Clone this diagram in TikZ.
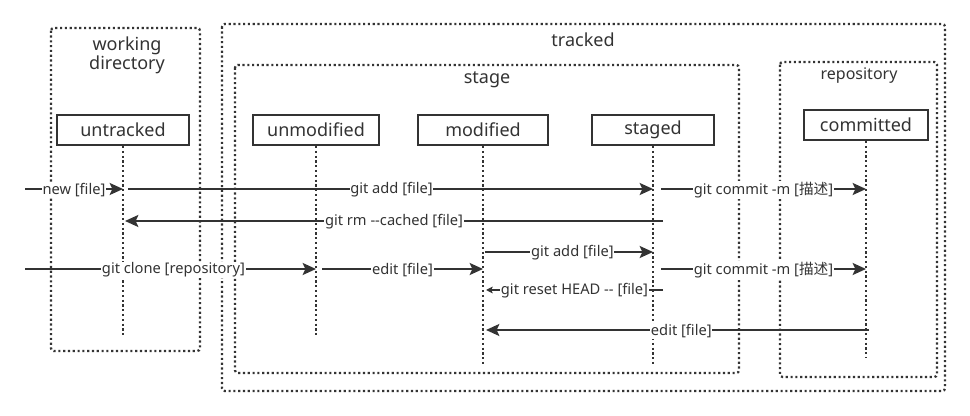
\documentclass[tikz,border=0pt]{standalone}
\usepackage{fontspec}
\setmainfont{Noto Sans}
\newfontfamily\cjk{Noto Sans CJK SC}
\usetikzlibrary{arrows.meta}
\definecolor{ink}{HTML}{333333}
\tikzset{
  dots/.style={line width=1.7pt, dash pattern=on 1.6pt off 2pt},
  grp/.style={draw=ink, dots, rounded corners=2pt},
  state/.style={draw=ink, line width=1.5pt, fill=white, minimum height=22.5pt, inner sep=0pt, font=\fontsize{13.5}{15}\selectfont, text=ink},
  life/.style={draw=ink, dots},
  msg/.style={draw=ink, line width=1.5pt, -{Stealth[length=10pt,width=9pt,inset=2pt]}},
  smsg/.style={draw=ink, line width=1.2pt, -{Stealth[length=5pt,width=5pt,inset=1pt]}},
  lbl/.style={fill=white, inner sep=0.5pt, yshift=-0.8pt, text=ink, font=\fontsize{11}{12}\selectfont},
  grplbl/.style={text=ink, font=\fontsize{13.5}{15}\selectfont},
}
\begin{document}
\begin{tikzpicture}[x=0.75pt,y=-0.75pt]
\useasboundingbox (0,0) rectangle (970,416);
% groups
\draw[grp] (51,28) rectangle (200,351);
\node[grplbl, align=center] (wdl) at (127,55) {working\\[-1pt]directory};
\draw[grp] (222,24) rectangle (945,391);
\node[grplbl] (trl) at (583,40) {tracked};
\draw[grp] (235,65) rectangle (739,373);
\node[grplbl] (stl) at (487,80) {stage};
\draw[grp] (780,62) rectangle (937,377);
\node[grplbl, font=\fontsize{12}{13}\selectfont] (rpl) at (859,76) {repository};
% states
\node[state, minimum width=99pt] (ut) at (123,130) {untracked};
\node[state, minimum width=94.5pt] (um) at (316,130) {unmodified};
\node[state, minimum width=98pt] (md) at (483,130) {modified};
\node[state, minimum width=92pt] (sg) at (653,130) {staged};
\node[state, minimum width=93pt] (cm) at (866,125) {committed};
% lifeline ends
\coordinate (ute) at (123,336);
\coordinate (ume) at (316,336);
\coordinate (mde) at (483,365);
\coordinate (sge) at (653,365);
\coordinate (cme) at (866,358);
\draw[life] (ut.south) -- (ute);
\draw[life] (um.south) -- (ume);
\draw[life] (md.south) -- (mde);
\draw[life] (sg.south) -- (sge);
\draw[life] (cm.south) -- (cme);
% message endpoints
\coordinate (a1s) at (25,189);
\coordinate (a1e) at (123,189);
\coordinate (a2s) at (128,189);
\coordinate (a2e) at (653,189);
\coordinate (a3s) at (661,189);
\coordinate (a3e) at (866,189);
\coordinate (b1s) at (663,221);
\coordinate (b1e) at (125,221);
\coordinate (c1s) at (485,252);
\coordinate (c1e) at (653,252);
\coordinate (d1s) at (25,269);
\coordinate (d1e) at (316,269);
\coordinate (d2s) at (322,269);
\coordinate (d2e) at (483,269);
\coordinate (d3s) at (661,269);
\coordinate (d3e) at (866,269);
\coordinate (e1s) at (663,290);
\coordinate (e1e) at (486,290);
\coordinate (f1s) at (869,330);
\coordinate (f1e) at (486,330);
% messages
\draw[msg] (a1s) -- node[lbl, pos=0.5] (l1) {new [file]} (a1e);
\draw[msg] (a2s) -- node[lbl, pos=0.502] (l2) {git add [file]} (a2e);
\draw[msg] (a3s) -- node[lbl, pos=0.5] (l3) {git commit -m [{\cjk 描述}]} (a3e);
\draw[msg] (b1s) -- node[lbl, pos=0.50] (l4) {git rm -{}-cached [file]} (b1e);
\draw[msg] (c1s) -- node[lbl, pos=0.52] (l5) {git add [file]} (c1e);
\draw[msg] (d1s) -- node[lbl, pos=0.51] (l6) {git clone [repository]} (d1e);
\draw[msg] (d2s) -- node[lbl, pos=0.5] (l7) {edit [file]} (d2e);
\draw[msg] (d3s) -- node[lbl, pos=0.5] (l8) {git commit -m [{\cjk 描述}]} (d3e);
\draw[smsg] (e1s) -- node[lbl, pos=0.5] (l9) {git reset HEAD -{}- [file]} (e1e);
\draw[msg] (f1s) -- node[lbl, pos=0.49] (l10) {edit [file]} (f1e);
\end{tikzpicture}
\end{document}
